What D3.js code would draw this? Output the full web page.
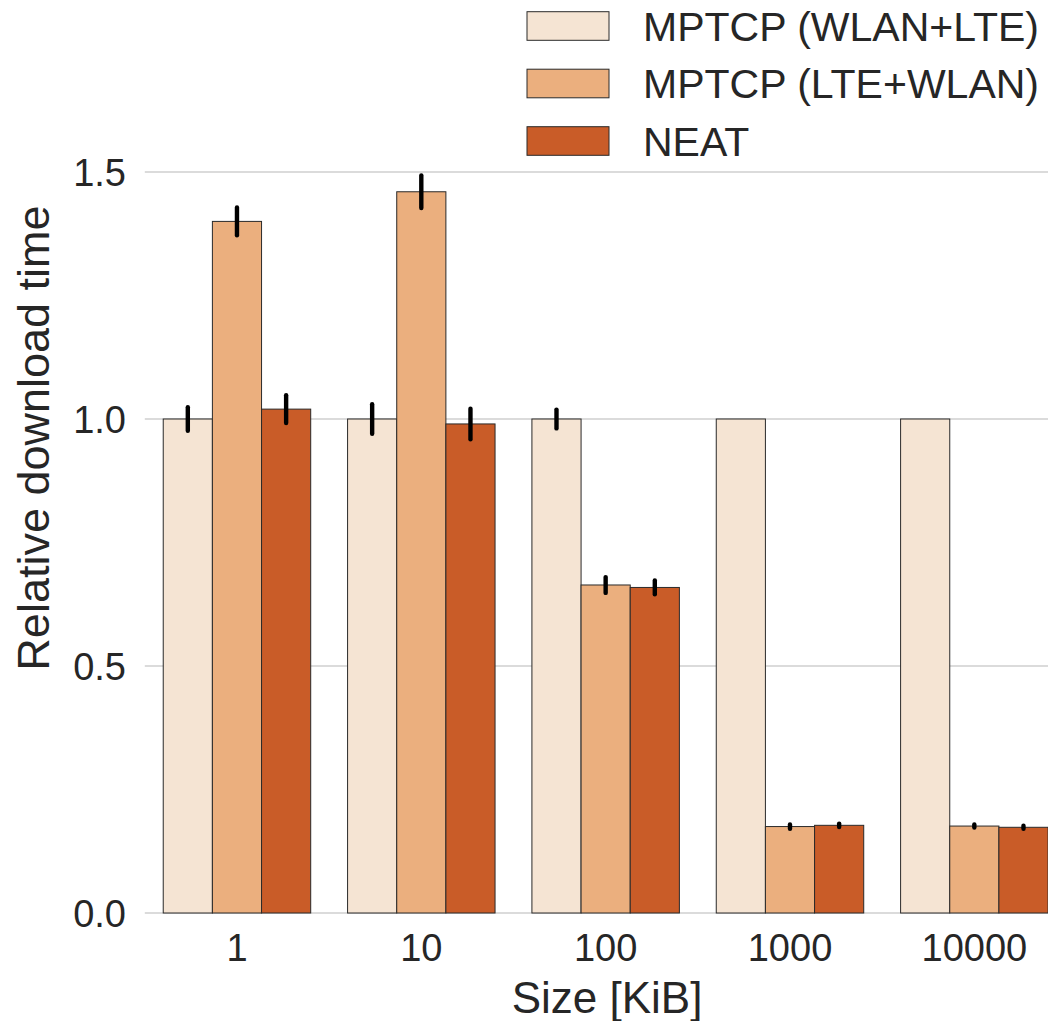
<!DOCTYPE html>
<html>
<head>
<meta charset="utf-8">
<script src="https://cdn.jsdelivr.net/npm/d3@7"></script>
<style>
  html, body { margin: 0; padding: 0; background: #fff; }
  svg { display: block; font-family: "Liberation Sans", Arial, sans-serif; }
</style>
</head>
<body>
<svg id="chart" width="1048" height="1021"></svg>
<script>
const categories = ["1", "10", "100", "1000", "10000"];
const seriesNames = ["MPTCP (WLAN+LTE)", "MPTCP (LTE+WLAN)", "NEAT"];
const seriesColors = ["#f5e4d3", "#ebaf7e", "#c95c28"];
const wlanLte = [1.0, 1.0, 1.0, 1.0, 1.0];
const wlanLteErr = [0.024, 0.030, 0.019, 0, 0];
const lteWlan = [1.40, 1.46, 0.664, 0.175, 0.176];
const lteWlanErr = [0.028, 0.033, 0.016, 0.0044, 0.003];
const neat = [1.02, 0.99, 0.659, 0.1775, 0.1735];
const neatErr = [0.028, 0.031, 0.014, 0.0035, 0.003];
const yTicks = [0, 0.5, 1.0, 1.5];

const values = [wlanLte, lteWlan, neat];
const errors = [wlanLteErr, lteWlanErr, neatErr];

const W = 1048, H = 1021;
const svg = d3.select("#chart");
const textColor = "#262626";

const x = d3.scaleBand().domain(categories).range([144.8, 1066.5]).padding(0);
const xInner = d3.scaleBand().domain(d3.range(seriesNames.length))
  .range([x.bandwidth() * 0.1, x.bandwidth() * 0.9]).padding(0);
const y = d3.scaleLinear().domain([0, 1.5]).range([913, 172]);

// gridlines
svg.append("g").selectAll("line").data(yTicks).join("line")
  .attr("x1", 144.8).attr("x2", W)
  .attr("y1", d => y(d)).attr("y2", d => y(d))
  .attr("stroke", "#cfcfcf").attr("stroke-width", 1.7);

// y tick labels via axis
const yAxis = d3.axisLeft(y).tickValues(yTicks).tickFormat(d3.format(".1f")).tickSize(0).tickPadding(0);
const ya = svg.append("g").attr("transform", "translate(126,0)").call(yAxis);
ya.select(".domain").remove();
ya.selectAll("text").attr("font-size", 38).attr("fill", textColor)
  .attr("font-family", "'Liberation Sans', Arial, sans-serif")
  .attr("dy", "0.35em").attr("x", 0);

// x tick labels via axis
const xAxis = d3.axisBottom(x).tickSize(0).tickPadding(0);
const xa = svg.append("g").attr("transform", "translate(0,947)").call(xAxis);
xa.select(".domain").remove();
xa.selectAll("text").attr("font-size", 38).attr("fill", textColor)
  .attr("font-family", "'Liberation Sans', Arial, sans-serif")
  .attr("dy", "0.36em").attr("y", 0);

// bars
const groups = svg.append("g").selectAll("g").data(categories).join("g")
  .attr("transform", d => `translate(${x(d)},0)`);

seriesNames.forEach((s, si) => {
  groups.append("rect")
    .attr("x", xInner(si))
    .attr("y", (d, i) => y(values[si][i]))
    .attr("width", xInner.bandwidth())
    .attr("height", (d, i) => y(0) - y(values[si][i]))
    .attr("fill", seriesColors[si])
    .attr("stroke", "#2a2a2a").attr("stroke-width", 1);
});

seriesNames.forEach((s, si) => {
  groups.filter((d, i) => errors[si][i] > 0).append("line")
    .attr("x1", xInner(si) + xInner.bandwidth() / 2)
    .attr("x2", xInner(si) + xInner.bandwidth() / 2)
    .attr("y1", d => { const i = categories.indexOf(d); return y(values[si][i] - errors[si][i]); })
    .attr("y2", d => { const i = categories.indexOf(d); return y(values[si][i] + errors[si][i]); })
    .attr("stroke", "#000").attr("stroke-width", 4.4).attr("stroke-linecap", "round");
});

// axis titles
svg.append("text").attr("x", 607).attr("y", 1013).attr("text-anchor", "middle")
  .attr("font-size", 44).attr("fill", textColor).text("Size [KiB]");
svg.append("text").attr("transform", "translate(49,438) rotate(-90)")
  .attr("text-anchor", "middle").attr("font-size", 45).attr("fill", textColor)
  .text("Relative download time");

// legend
const legend = svg.append("g").selectAll("g").data(seriesNames).join("g")
  .attr("transform", (d, i) => `translate(527,${26 + i * 57.5})`);
legend.append("rect").attr("x", 0).attr("y", -14.3).attr("width", 82).attr("height", 28.6)
  .attr("fill", (d, i) => seriesColors[i]).attr("stroke", "#2a2a2a").attr("stroke-width", 1);
legend.append("text").attr("x", 116).attr("y", 0).attr("dy", "0.36em")
  .attr("font-size", 41).attr("fill", textColor).text(d => d);
</script>
</body>
</html>
